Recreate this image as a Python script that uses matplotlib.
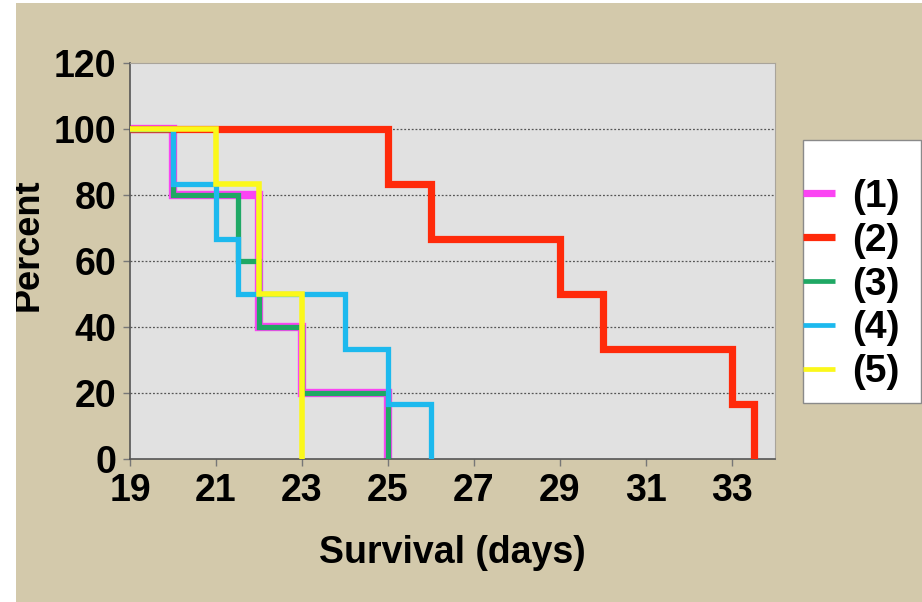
import matplotlib
matplotlib.use("Agg")
import matplotlib.pyplot as plt
from matplotlib.patches import Rectangle

# Kaplan-Meier style survival steps for five groups
days_1 = [19, 20, 22, 23, 25]
pct_1 = [100, 80, 40, 20, 0]

days_2 = [19, 25, 26, 29, 30, 33, 33.5]
pct_2 = [100, 83.3, 66.7, 50, 33.3, 16.7, 0]

days_3 = [19, 20, 21.5, 22, 23, 25]
pct_3 = [100, 80, 60, 40, 20, 0]

days_4 = [19, 20, 21, 21.5, 24, 25, 26]
pct_4 = [100, 83.3, 66.7, 50, 33.3, 16.7, 0]

days_5 = [19, 21, 22, 23]
pct_5 = [100, 83.3, 50, 0]

group_labels = ["(1)", "(2)", "(3)", "(4)", "(5)"]
x_ticks = [19, 21, 23, 25, 27, 29, 31, 33]
y_ticks = [0, 20, 40, 60, 80, 100, 120]

plt.rcParams["font.family"] = ["Liberation Sans", "DejaVu Sans"]
plt.rcParams["font.weight"] = "bold"

W, H = 922, 602
fig = plt.figure(figsize=(W / 100, H / 100), dpi=100, facecolor="white")

TAN = "#d3c9ab"
fig.patches.append(Rectangle((16 / W, 0), 1 - 16 / W, (H - 3) / H,
                             transform=fig.transFigure, facecolor=TAN,
                             edgecolor="none", zorder=-10))

ax = fig.add_axes([130 / W, (H - 459) / H, (775 - 130) / W, (459 - 62.7) / H])
ax.set_facecolor("#e1e1e1")

series = [
    (days_1, pct_1, "#fb44f3", 6.0, 2),
    (days_2, pct_2, "#ff2a0a", 5.2, 3),
    (days_3, pct_3, "#1fa864", 3.8, 4),
    (days_4, pct_4, "#1cb9ee", 3.8, 5),
    (days_5, pct_5, "#fbf81a", 4.0, 6),
]
lines = []
for (d, p, c, lw, z), lab in zip(series, group_labels):
    ln, = ax.step(d, p, where="post", color=c, lw=lw, zorder=z, label=lab,
                  solid_joinstyle="miter", solid_capstyle="butt")
    lines.append(ln)

ax.set_xlim(19, 34)
ax.set_ylim(0, 120)
ax.set_xticks(x_ticks)
ax.set_yticks(y_ticks)
ax.tick_params(axis="both", labelsize=27, length=5, width=1, color="#777777",
               pad=5)
for lbl in ax.get_xticklabels() + ax.get_yticklabels():
    lbl.set_fontweight("bold")

for yv in y_ticks[1:-1]:
    ax.axhline(yv, color="#555555", lw=0.9, ls=(0, (1.5, 1.5)), zorder=1)

for side in ("left", "bottom"):
    ax.spines[side].set_color("#555555")
    ax.spines[side].set_linewidth(1.2)
for side in ("top", "right"):
    ax.spines[side].set_color("#a9a49a")
    ax.spines[side].set_linewidth(0.8)

ax.set_xlabel("Survival (days)", fontsize=27, fontweight="bold", labelpad=19)
fig.text(28 / W, 1 - 245 / H, "Percent", rotation=90, fontsize=26,
         fontweight="bold", ha="center", va="center")

# white margin strips along the left and top edges
fig.patches.append(Rectangle((0, 0), 16 / W, 1, transform=fig.transFigure,
                             facecolor="white", edgecolor="none", zorder=20))
fig.patches.append(Rectangle((0, (H - 3) / H), 1, 3 / H,
                             transform=fig.transFigure, facecolor="white",
                             edgecolor="none", zorder=20))

# legend box and entries
fig.patches.append(Rectangle((803 / W, (H - 403) / H), 118 / W, 263 / H,
                             transform=fig.transFigure, facecolor="white",
                             edgecolor="#8a8a8a", lw=1.0, zorder=1))
leg = fig.legend(handles=lines, labels=group_labels, loc="upper left",
                 bbox_to_anchor=(803 / W, 1 - 179 / H), frameon=False,
                 borderpad=0, borderaxespad=0, handlelength=0.82,
                 handletextpad=0.44, labelspacing=0.2,
                 prop={"size": 28, "weight": "bold"})
leg.set_zorder(5)
for lh, lw in zip(leg.get_lines(), [5.2, 5.2, 3.4, 3.4, 3.4]):
    lh.set_linewidth(lw)

fig.savefig("out.png", dpi=100, facecolor="white")
